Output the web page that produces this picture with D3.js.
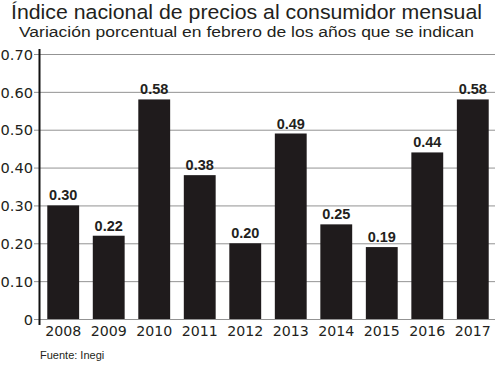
<!DOCTYPE html>
<html><head><meta charset="utf-8">
<script src="https://cdn.jsdelivr.net/npm/d3@7"></script>
<style>body{margin:0;background:#fff}svg{display:block}</style>
</head><body>
<svg id="c" width="500" height="365"></svg>
<script>
const years = ["2008","2009","2010","2011","2012","2013","2014","2015","2016","2017"];
const values = [0.30,0.22,0.58,0.38,0.20,0.49,0.25,0.19,0.44,0.58];
const valueLabels = ["0.30","0.22","0.58","0.38","0.20","0.49","0.25","0.19","0.44","0.58"];
const yTicks = [0,0.1,0.2,0.3,0.4,0.5,0.6,0.7];
const title = "Índice nacional de precios al consumidor mensual";
const subtitle = "Variación porcentual en febrero de los años que se indican";
const source = "Fuente: Inegi";

const svg = d3.select("#c");
const font = "'DejaVu Sans', sans-serif";
const sans = "'Liberation Sans', Arial, sans-serif";
const x = d3.scaleBand().domain(years).range([40,496]).paddingInner(0.3).paddingOuter(0.16);
const y = d3.scaleLinear().domain([0,0.7]).range([319,54]);

svg.append("text").attr("x",11).attr("y",19)
  .attr("font-family",sans).attr("font-size",20.5).attr("fill","#231f20")
  .attr("textLength",471).attr("lengthAdjust","spacingAndGlyphs").text(title);
svg.append("text").attr("x",19).attr("y",37)
  .attr("font-family",sans).attr("font-size",15.5).attr("fill","#231f20")
  .attr("textLength",455).attr("lengthAdjust","spacingAndGlyphs").text(subtitle);

// gridlines
const yAxis = d3.axisLeft(y).tickValues(yTicks).tickSize(-(495-34)).tickPadding(0)
  .tickFormat(d => d===0 ? "0" : d3.format(".2f")(d));
const g = svg.append("g").attr("transform","translate(34,0)").call(yAxis);
g.select(".domain").remove();
g.selectAll(".tick line").attr("stroke","#939393").attr("stroke-width",1);
g.selectAll(".tick text").attr("x",-1).attr("dy","0.36em").attr("font-family",font)
  .attr("font-size",14.6).attr("fill","#231f20");

// bars
svg.append("g").selectAll("rect").data(values).join("rect")
  .attr("x",(d,i)=>x(years[i])).attr("width",x.bandwidth())
  .attr("y",d=>y(d)).attr("height",d=>y(0)-y(d)).attr("fill","#1f1b1c");

svg.append("g").selectAll("text").data(values).join("text")
  .attr("x",(d,i)=>x(years[i])+x.bandwidth()/2).attr("y",d=>y(d)-5)
  .attr("text-anchor","middle").attr("font-family",sans)
  .attr("font-weight","bold").attr("font-size",14.5).attr("fill","#231f20")
  .text((d,i)=>valueLabels[i]);

// x labels
const xAxis = d3.axisBottom(x).tickSize(0).tickPadding(0);
const gx = svg.append("g").attr("transform","translate(0,336)").call(xAxis);
gx.select(".domain").remove();
gx.selectAll(".tick text").attr("y",0).attr("dy",0).attr("font-family",font)
  .attr("font-size",14.2).attr("fill","#231f20");

// y axis line
svg.append("line").attr("x1",39.5).attr("x2",39.5).attr("y1",49).attr("y2",325)
  .attr("stroke","#111").attr("stroke-width",2);

svg.append("text").attr("x",40).attr("y",359).attr("font-family",sans)
  .attr("font-size",11).attr("fill","#231f20").text(source);
</script>
</body></html>
